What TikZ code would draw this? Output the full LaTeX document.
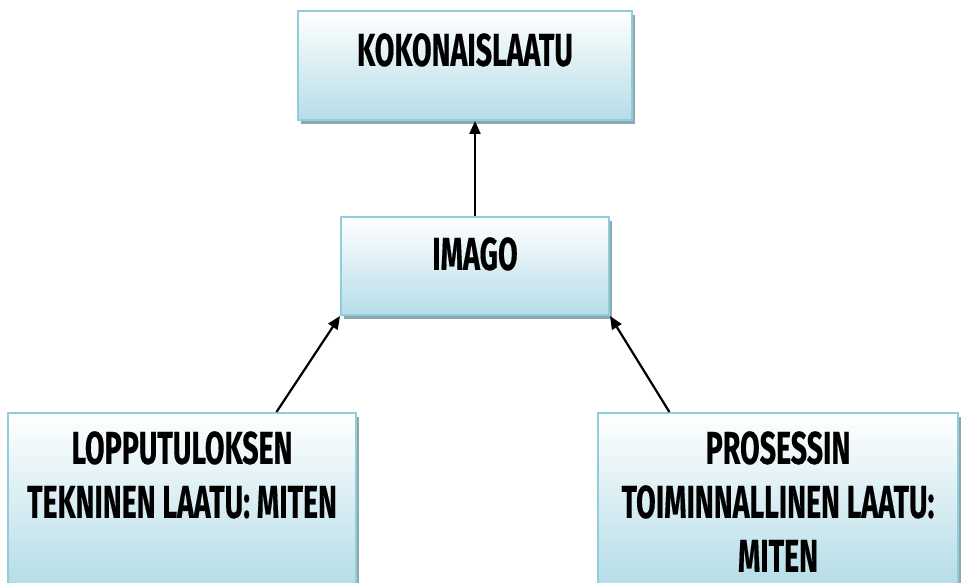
\documentclass[tikz,border=0pt]{standalone}
\usepackage{fontspec}
\setmainfont{Fira Sans}[FakeStretch=0.62, BoldFeatures={FakeBold=0.3}]
\usetikzlibrary{shadows,calc,arrows.meta,positioning}
\usepackage{xcolor}
\definecolor{boxline}{HTML}{92CDDC}
\definecolor{boxfill}{HTML}{B6DDE8}
\definecolor{shadowgray}{HTML}{8CA8AE}

\tikzset{
  qbox/.style={draw=boxline, line width=2pt, top color=white, bottom color=boxfill,
    shading angle=0, inner sep=0pt,
    general shadow={fill=shadowgray, shadow xshift=3pt, shadow yshift=-4pt}},
  qtext/.style={align=center, inner sep=0pt, font=\bfseries\fontsize{46}{54}\selectfont},
  qarrow/.style={line width=2.2pt, -{Triangle[length=13pt, width=11pt]}}
}

\begin{document}
\begin{tikzpicture}[x=1pt, y=1pt]

  % canvas
  \useasboundingbox (0, 0) rectangle (961, 583);
  \fill[white] (0, 0) rectangle (961, 583);

  % Boxes
  \node[qbox, minimum width=334pt, minimum height=109pt] (top) at (465, 517.5) {};
  \node[qbox, minimum width=268pt, minimum height=98pt] (imago) at (475, 317) {};
  \node[qbox, minimum width=348pt, minimum height=172pt] (result) at (182, 84) {};
  \node[qbox, minimum width=360pt, minimum height=172pt] (process) at (778, 84) {};

  % Texts
  \node[qtext, anchor=north, below=23pt of top.north] (toptxt) {KOKONAISLAATU};
  \node[qtext, anchor=north, below=21pt of imago.north] (imagotxt) {IMAGO};
  \node[qtext, anchor=north, below=19pt of result.north] (resulttxt)
    {LOPPUTULOKSEN\\TEKNINEN LAATU: MITEN};
  \node[qtext, anchor=north, below=19pt of process.north] (processtxt)
    {PROSESSIN\\TOIMINNALLINEN LAATU:\\MITEN};

  % Arrows
  \draw[qarrow] (imago.north) -- (imago.north |- top.south);
  \draw[qarrow] ($(result.north west)!0.77!(result.north east)$) -- (imago.south west);
  \draw[qarrow] ($(process.north west)!0.2!(process.north east)$) -- (imago.south east);

\end{tikzpicture}
\end{document}
